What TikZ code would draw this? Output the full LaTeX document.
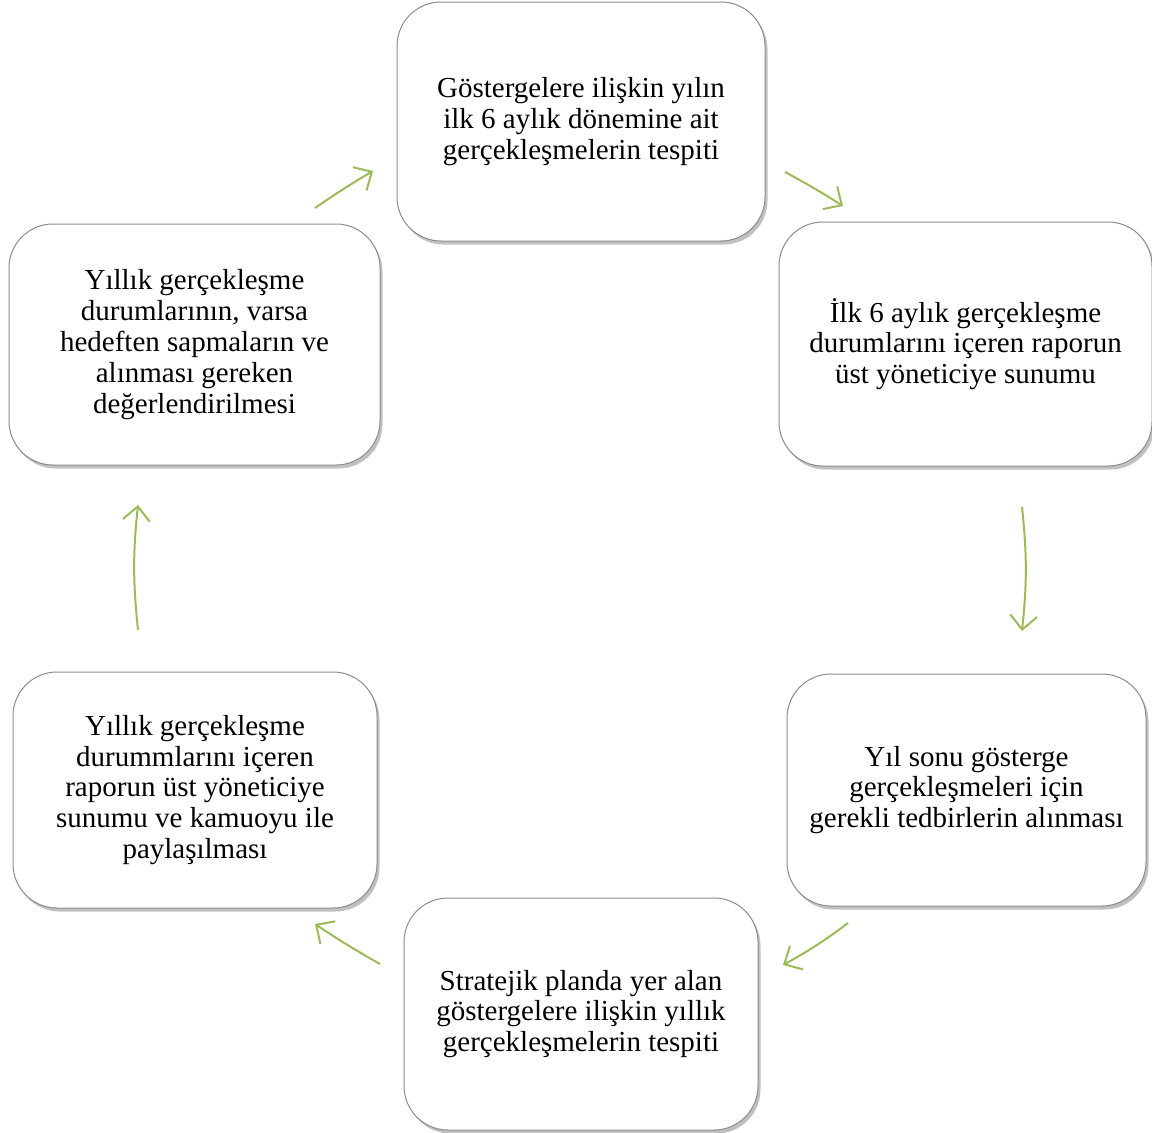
\documentclass[tikz,border=0pt]{standalone}
\usepackage{fontspec}
\setmainfont{Liberation Serif}
\usetikzlibrary{arrows.meta,shadows}
\definecolor{arrgreen}{HTML}{9BBB59}
\definecolor{boxline}{HTML}{8C8C8C}
\tikzset{
  cyclebox/.style={draw=boxline, line width=1pt, fill=white, rounded corners=44pt,
    align=center, inner sep=0pt,
    font=\fontsize{29}{30.8}\selectfont,
    drop shadow={shadow xshift=2.5pt, shadow yshift=-3.5pt, fill=black!45, opacity=0.55}},
  cyclearrow/.style={draw=arrgreen, line width=2pt,
    -{Straight Barb[length=14pt,width=27pt,line width=2pt]}}
}
\begin{document}
\begin{tikzpicture}[x=1pt,y=-1pt]
\useasboundingbox (0,0) rectangle (1152,1133);
\node[cyclebox, minimum width=368pt, minimum height=239pt] (A) at (581,121.5)
  {Göstergelere ilişkin yılın\\ilk 6 aylık dönemine ait\\gerçekleşmelerin tespiti};
\node[cyclebox, minimum width=373pt, minimum height=244pt] (B) at (965.5,344)
  {İlk 6 aylık gerçekleşme\\durumlarını içeren raporun\\üst yöneticiye sunumu};
\node[cyclebox, minimum width=359pt, minimum height=232pt] (C) at (966.5,790)
  {Yıl sonu gösterge\\gerçekleşmeleri için\\gerekli tedbirlerin alınması};
\node[cyclebox, minimum width=354pt, minimum height=232pt] (D) at (581,1014)
  {Stratejik planda yer alan\\göstergelere ilişkin yıllık\\gerçekleşmelerin tespiti};
\node[cyclebox, minimum width=364pt, minimum height=236pt] (E) at (195,790)
  {Yıllık gerçekleşme\\durummlarını içeren\\raporun üst yöneticiye\\sunumu ve kamuoyu ile\\paylaşılması};
\node[cyclebox, minimum width=371pt, minimum height=241pt] (F) at (194.5,344.5)
  {Yıllık gerçekleşme\\durumlarının, varsa\\hedeften sapmaların ve\\alınması gereken\\değerlendirilmesi};
\coordinate (a1s) at (315,208); \coordinate (a1e) at (373,171);
\coordinate (a2s) at (785,172); \coordinate (a2e) at (843,206);
\coordinate (a3s) at (1022,507); \coordinate (a3e) at (1022,631);
\coordinate (a4s) at (848,923); \coordinate (a4e) at (783,965);
\coordinate (a5s) at (380,964); \coordinate (a5e) at (315,924);
\coordinate (a6s) at (138,630); \coordinate (a6e) at (138,505);
\draw[cyclearrow] (a1s) to[bend left=2] (a1e);
\draw[cyclearrow] (a2s) to[bend left=2] (a2e);
\draw[cyclearrow] (a3s) to[bend left=6] (a3e);
\draw[cyclearrow] (a4s) to[bend left=4] (a4e);
\draw[cyclearrow] (a5s) to[bend left=2] (a5e);
\draw[cyclearrow] (a6s) to[bend left=6] (a6e);
\end{tikzpicture}
\end{document}
